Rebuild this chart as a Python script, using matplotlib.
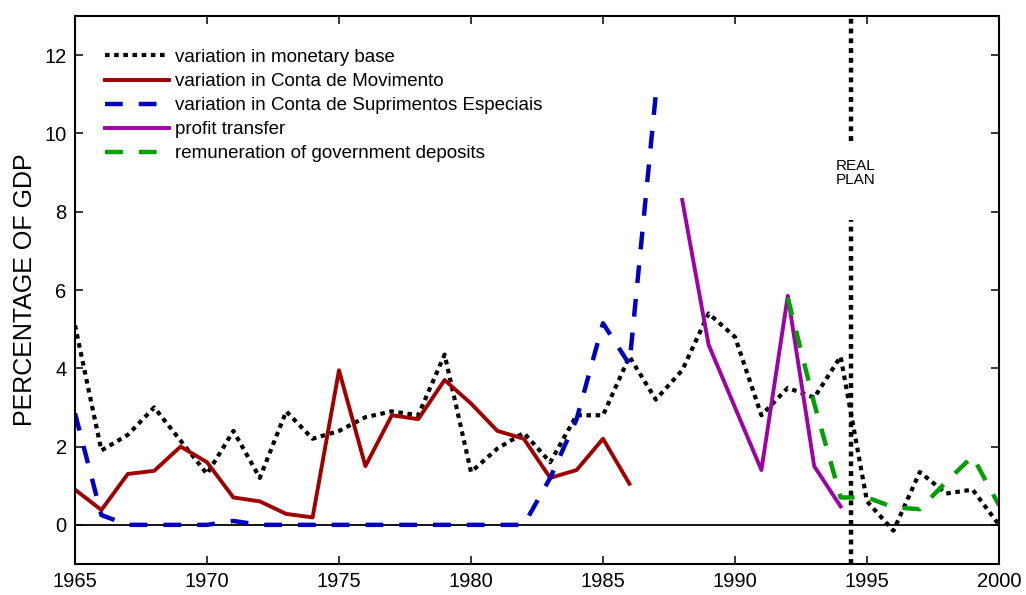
import matplotlib
matplotlib.use("Agg")
import matplotlib.pyplot as plt

plt.rcParams.update({
    "font.family": ["Liberation Sans", "DejaVu Sans"],
    "xtick.direction": "in", "ytick.direction": "in",
    "xtick.top": True, "ytick.right": True,
    "xtick.major.size": 6, "ytick.major.size": 6,
    "xtick.major.width": 1.1, "ytick.major.width": 1.1,
    "axes.linewidth": 1.5,
})

# data (percentage of GDP)
years_mb = list(range(1965, 2001))
monetary_base = [5.1, 1.9, 2.3, 3.0, 2.15, 1.3, 2.4, 1.2, 2.9, 2.2,
                 2.4, 2.75, 2.9, 2.8, 4.35, 1.35, 1.95, 2.35, 1.6, 2.8,
                 2.8, 4.3, 3.2, 3.95, 5.4, 4.8, 2.8, 3.5, 3.25, 4.3,
                 0.6, -0.15, 1.35, 0.8, 0.9, 0.0]

years_cm = list(range(1965, 1987))
conta_movimento = [0.9, 0.38, 1.3, 1.38, 2.0, 1.6, 0.7, 0.6, 0.28, 0.19,
                   3.95, 1.5, 2.8, 2.7, 3.7, 3.1, 2.4, 2.2, 1.2, 1.4,
                   2.2, 1.05]

years_cse = list(range(1965, 1988))
conta_suprimentos = [2.85, 0.25, 0, 0, 0, 0, 0.1, 0, 0, 0,
                     0, 0, 0, 0, 0, 0, 0, 0, 1.2, 2.7,
                     5.15, 4.1, 11.0]

years_pt = list(range(1988, 1995))
profit_transfer = [8.3, 4.6, 3.0, 1.4, 5.85, 1.5, 0.47]

years_rg = list(range(1992, 2001))
remuneration = [5.8, 3.1, 0.7, 0.7, 0.45, 0.4, 1.1, 1.75, 0.5]

real_plan_year = 1994.4

fig = plt.figure(figsize=(10.26, 5.95), dpi=100)
ax = fig.add_axes([0.0731, 0.0521, 0.9006, 0.921])

ax.axhline(0, color="black", lw=1.3, zorder=1)

ax.plot(years_mb, monetary_base, color="black", lw=3.0,
        ls=(0, (1.1, 1.1)), dash_capstyle="butt", label="variation in monetary base")
ax.plot(years_cm, conta_movimento, color="#A00000", lw=2.8,
        label="variation in Conta de Movimento")
ax.plot(years_cse, conta_suprimentos, color="#0000C0", lw=3.2,
        ls=(0, (4.0, 3.6)), label="variation in Conta de Suprimentos Especiais")
ax.plot(years_pt, profit_transfer, color="#A000A8", lw=2.8,
        label="profit transfer")
ax.plot(years_rg, remuneration, color="#00A000", lw=3.2,
        ls=(0, (4.0, 3.6)), label="remuneration of government deposits")

# Real Plan marker
ax.plot([real_plan_year, real_plan_year], [-1, 7.8], color="black", lw=3.2,
        ls=(0, (1.1, 1.1)), dash_capstyle="butt")
ax.plot([real_plan_year, real_plan_year], [9.8, 13], color="black", lw=3.2,
        ls=(0, (1.1, 1.1)), dash_capstyle="butt")
ax.text(real_plan_year + 0.15, 9.0, "REAL\nPLAN", ha="center", va="center",
        fontsize=11, linespacing=1.0,
        family=["Liberation Sans Narrow", "Liberation Sans", "DejaVu Sans"])

ax.set_xlim(1965, 2000)
ax.set_ylim(-1, 13)
ax.set_xticks(range(1965, 2001, 5))
ax.set_yticks(range(0, 13, 2))
ax.tick_params(labelsize=14.5, pad=6)
ax.set_ylabel("PERCENTAGE OF GDP", fontsize=18, labelpad=5)

ax.legend(loc="upper left", bbox_to_anchor=(0.033, 0.94), frameon=False,
          fontsize=13.5, handlelength=3.4, handletextpad=0.3,
          labelspacing=0.37, borderpad=0, borderaxespad=0)

fig.savefig("out.png", dpi=100)
